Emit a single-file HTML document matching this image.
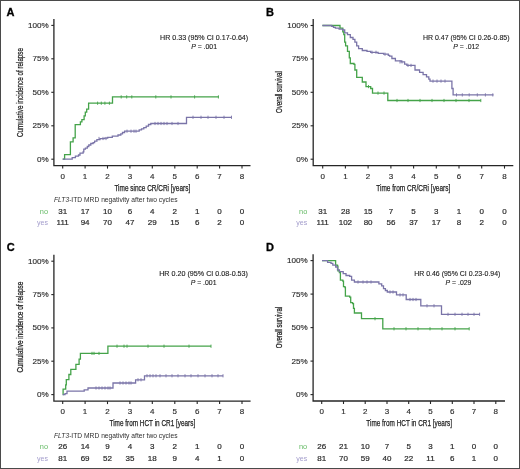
<!DOCTYPE html>
<html><head><meta charset="utf-8">
<style>
html,body{margin:0;padding:0;background:#fff;}
body{width:520px;height:469px;overflow:hidden;}
svg{display:block;will-change:transform;}
text{font-family:"Liberation Sans",sans-serif;}
.L{font-size:11px;font-weight:bold;fill:#000;stroke:#000;stroke-width:0.3px;}
.yt{font-size:8.1px;fill:#2c2c2c;stroke:#2c2c2c;stroke-width:0.15px;text-anchor:end;}
.xt{font-size:8px;fill:#2c2c2c;stroke:#2c2c2c;stroke-width:0.15px;text-anchor:middle;}
.ax{font-size:9px;fill:#222;font-weight:normal;stroke:#222;stroke-width:0.25px;}
.hr{font-size:6.9px;fill:#222;stroke:#222;stroke-width:0.12px;}
.rt{font-size:7.6px;fill:#2f2f2f;}
.rn{font-size:8px;fill:#2a2a2a;text-anchor:middle;stroke:#2a2a2a;stroke-width:0.2px;}
</style></head>
<body><svg width="520" height="469" viewBox="0 0 520 469">
<rect x="0.5" y="0.5" width="519" height="468" fill="#fff" stroke="#4a4a4a" stroke-width="1"/>
<text x="6.6" y="15.7" class="L">A</text>
<path d="M53.9 19.0 V165.6 H250.5" fill="none" stroke="#262626" stroke-width="1.3"/>
<line x1="51.3" y1="159.2" x2="53.9" y2="159.2" stroke="#262626" stroke-width="1.1"/>
<text x="48.6" y="161.7" class="yt">0%</text>
<line x1="51.3" y1="125.8" x2="53.9" y2="125.8" stroke="#262626" stroke-width="1.1"/>
<text x="48.6" y="128.2" class="yt">25%</text>
<line x1="51.3" y1="92.3" x2="53.9" y2="92.3" stroke="#262626" stroke-width="1.1"/>
<text x="48.6" y="94.8" class="yt">50%</text>
<line x1="51.3" y1="58.8" x2="53.9" y2="58.8" stroke="#262626" stroke-width="1.1"/>
<text x="48.6" y="61.3" class="yt">75%</text>
<line x1="51.3" y1="25.4" x2="53.9" y2="25.4" stroke="#262626" stroke-width="1.1"/>
<text x="48.6" y="27.9" class="yt">100%</text>
<line x1="62.7" y1="165.6" x2="62.7" y2="168.6" stroke="#262626" stroke-width="1.1"/>
<text x="62.7" y="178.6" class="xt">0</text>
<line x1="85.1" y1="165.6" x2="85.1" y2="168.6" stroke="#262626" stroke-width="1.1"/>
<text x="85.1" y="178.6" class="xt">1</text>
<line x1="107.5" y1="165.6" x2="107.5" y2="168.6" stroke="#262626" stroke-width="1.1"/>
<text x="107.5" y="178.6" class="xt">2</text>
<line x1="129.9" y1="165.6" x2="129.9" y2="168.6" stroke="#262626" stroke-width="1.1"/>
<text x="129.9" y="178.6" class="xt">3</text>
<line x1="152.3" y1="165.6" x2="152.3" y2="168.6" stroke="#262626" stroke-width="1.1"/>
<text x="152.3" y="178.6" class="xt">4</text>
<line x1="174.8" y1="165.6" x2="174.8" y2="168.6" stroke="#262626" stroke-width="1.1"/>
<text x="174.8" y="178.6" class="xt">5</text>
<line x1="197.2" y1="165.6" x2="197.2" y2="168.6" stroke="#262626" stroke-width="1.1"/>
<text x="197.2" y="178.6" class="xt">6</text>
<line x1="219.6" y1="165.6" x2="219.6" y2="168.6" stroke="#262626" stroke-width="1.1"/>
<text x="219.6" y="178.6" class="xt">7</text>
<line x1="242.0" y1="165.6" x2="242.0" y2="168.6" stroke="#262626" stroke-width="1.1"/>
<text x="242.0" y="178.6" class="xt">8</text>
<text x="114.4" y="190.9" class="ax" textLength="75.8" lengthAdjust="spacingAndGlyphs">Time since CR/CRi [years]</text>
<text transform="translate(23.0 137.0) rotate(-90)" class="ax" textLength="89.0" lengthAdjust="spacingAndGlyphs">Cumulative incidence of relapse</text>
<text x="204.1" y="40.0" class="hr" text-anchor="middle" textLength="88.2" lengthAdjust="spacingAndGlyphs">HR 0.33 (95% CI 0.17-0.64)</text>
<text x="204.1" y="49.0" class="hr" text-anchor="middle"><tspan font-style="italic">P</tspan> = .001</text>
<path d="M62.7 159.2 H64.6 V154.6 H70.4 V141.9 H73.1 V137.9 H75.2 V124.6 H80.4 V121.9 H81.9 V119.6 H84.1 V115.9 H85.3 V112.2 H86.7 V109.2 H88.6 V103.2 H112.5 V96.9 H218.8" fill="none" stroke="#44a349" stroke-width="1.3"/>
<line x1="97.6" y1="101.6" x2="97.6" y2="104.8" stroke="#44a349" stroke-width="0.9"/><line x1="101.3" y1="101.6" x2="101.3" y2="104.8" stroke="#44a349" stroke-width="0.9"/><line x1="104.9" y1="101.6" x2="104.9" y2="104.8" stroke="#44a349" stroke-width="0.9"/><line x1="109.4" y1="101.6" x2="109.4" y2="104.8" stroke="#44a349" stroke-width="0.9"/><line x1="121.2" y1="95.3" x2="121.2" y2="98.5" stroke="#44a349" stroke-width="0.9"/><line x1="126.7" y1="95.3" x2="126.7" y2="98.5" stroke="#44a349" stroke-width="0.9"/><line x1="131.8" y1="95.3" x2="131.8" y2="98.5" stroke="#44a349" stroke-width="0.9"/><line x1="155.8" y1="95.3" x2="155.8" y2="98.5" stroke="#44a349" stroke-width="0.9"/><line x1="171.0" y1="95.3" x2="171.0" y2="98.5" stroke="#44a349" stroke-width="0.9"/><line x1="194.6" y1="95.3" x2="194.6" y2="98.5" stroke="#44a349" stroke-width="0.9"/><line x1="218.4" y1="95.3" x2="218.4" y2="98.5" stroke="#44a349" stroke-width="0.9"/>
<path d="M62.7 159.2 H72.2 V157.6 H75.4 V156.2 H78.5 V155.0 H80.0 V153.1 H83.1 V151.9 H83.8 V149.2 H85.4 V148.1 H87.3 V146.5 H88.8 V145.0 H90.8 V143.5 H93.1 V142.7 H94.6 V141.2 H96.9 V139.6 H100.0 V138.7 H104.6 V138.2 H107.7 V137.4 H112.3 V136.2 H118.0 V135.0 H120.8 V133.8 H122.5 V132.5 H124.6 V131.2 H139.2 V129.8 H141.5 V128.8 H143.8 V127.7 H146.2 V126.1 H148.5 V124.5 H150.8 V123.5 H186.5 V117.3 H231.5" fill="none" stroke="#7a74a8" stroke-width="1.3"/>
<line x1="99.0" y1="136.9" x2="99.0" y2="140.1" stroke="#7a74a8" stroke-width="0.9"/><line x1="103.0" y1="136.9" x2="103.0" y2="140.1" stroke="#7a74a8" stroke-width="0.9"/><line x1="106.0" y1="136.9" x2="106.0" y2="140.1" stroke="#7a74a8" stroke-width="0.9"/><line x1="127.0" y1="129.6" x2="127.0" y2="132.8" stroke="#7a74a8" stroke-width="0.9"/><line x1="131.0" y1="129.6" x2="131.0" y2="132.8" stroke="#7a74a8" stroke-width="0.9"/><line x1="134.0" y1="129.6" x2="134.0" y2="132.8" stroke="#7a74a8" stroke-width="0.9"/><line x1="136.0" y1="129.6" x2="136.0" y2="132.8" stroke="#7a74a8" stroke-width="0.9"/><line x1="155.0" y1="121.9" x2="155.0" y2="125.1" stroke="#7a74a8" stroke-width="0.9"/><line x1="158.0" y1="121.9" x2="158.0" y2="125.1" stroke="#7a74a8" stroke-width="0.9"/><line x1="161.0" y1="121.9" x2="161.0" y2="125.1" stroke="#7a74a8" stroke-width="0.9"/><line x1="164.0" y1="121.9" x2="164.0" y2="125.1" stroke="#7a74a8" stroke-width="0.9"/><line x1="167.0" y1="121.9" x2="167.0" y2="125.1" stroke="#7a74a8" stroke-width="0.9"/><line x1="172.0" y1="121.9" x2="172.0" y2="125.1" stroke="#7a74a8" stroke-width="0.9"/><line x1="178.0" y1="121.9" x2="178.0" y2="125.1" stroke="#7a74a8" stroke-width="0.9"/><line x1="193.0" y1="115.7" x2="193.0" y2="118.9" stroke="#7a74a8" stroke-width="0.9"/><line x1="201.0" y1="115.7" x2="201.0" y2="118.9" stroke="#7a74a8" stroke-width="0.9"/><line x1="208.0" y1="115.7" x2="208.0" y2="118.9" stroke="#7a74a8" stroke-width="0.9"/><line x1="216.0" y1="115.7" x2="216.0" y2="118.9" stroke="#7a74a8" stroke-width="0.9"/><line x1="224.0" y1="115.7" x2="224.0" y2="118.9" stroke="#7a74a8" stroke-width="0.9"/><line x1="231.5" y1="115.7" x2="231.5" y2="118.9" stroke="#7a74a8" stroke-width="0.9"/>
<text x="54.0" y="202.4" class="rt" style="font-size:7.3px" textLength="123.5" lengthAdjust="spacingAndGlyphs"><tspan font-style="italic">FLT3</tspan>-ITD MRD negativity after two cycles</text>
<text x="48.0" y="213.8" class="rt" style="fill:#66bb66;font-size:7.4px" text-anchor="end">no</text>
<text x="48.0" y="225.0" class="rt" style="fill:#a39dcc;font-size:7.4px" text-anchor="end" textLength="11" lengthAdjust="spacingAndGlyphs">yes</text>
<text x="62.7" y="213.8" class="rn">31</text>
<text x="62.7" y="225.0" class="rn">111</text>
<text x="85.1" y="213.8" class="rn">17</text>
<text x="85.1" y="225.0" class="rn">94</text>
<text x="107.5" y="213.8" class="rn">10</text>
<text x="107.5" y="225.0" class="rn">70</text>
<text x="129.9" y="213.8" class="rn">6</text>
<text x="129.9" y="225.0" class="rn">47</text>
<text x="152.3" y="213.8" class="rn">4</text>
<text x="152.3" y="225.0" class="rn">29</text>
<text x="174.8" y="213.8" class="rn">2</text>
<text x="174.8" y="225.0" class="rn">15</text>
<text x="197.2" y="213.8" class="rn">1</text>
<text x="197.2" y="225.0" class="rn">6</text>
<text x="219.6" y="213.8" class="rn">0</text>
<text x="219.6" y="225.0" class="rn">2</text>
<text x="242.0" y="213.8" class="rn">0</text>
<text x="242.0" y="225.0" class="rn">0</text>
<text x="266.0" y="16.2" class="L">B</text>
<path d="M313.2 18.9 V165.6 H513.3" fill="none" stroke="#262626" stroke-width="1.3"/>
<line x1="310.6" y1="159.2" x2="313.2" y2="159.2" stroke="#262626" stroke-width="1.1"/>
<text x="307.9" y="161.7" class="yt">0%</text>
<line x1="310.6" y1="125.8" x2="313.2" y2="125.8" stroke="#262626" stroke-width="1.1"/>
<text x="307.9" y="128.3" class="yt">25%</text>
<line x1="310.6" y1="92.3" x2="313.2" y2="92.3" stroke="#262626" stroke-width="1.1"/>
<text x="307.9" y="94.8" class="yt">50%</text>
<line x1="310.6" y1="58.9" x2="313.2" y2="58.9" stroke="#262626" stroke-width="1.1"/>
<text x="307.9" y="61.4" class="yt">75%</text>
<line x1="310.6" y1="25.5" x2="313.2" y2="25.5" stroke="#262626" stroke-width="1.1"/>
<text x="307.9" y="28.0" class="yt">100%</text>
<line x1="322.7" y1="165.6" x2="322.7" y2="168.6" stroke="#262626" stroke-width="1.1"/>
<text x="322.7" y="178.6" class="xt">0</text>
<line x1="345.4" y1="165.6" x2="345.4" y2="168.6" stroke="#262626" stroke-width="1.1"/>
<text x="345.4" y="178.6" class="xt">1</text>
<line x1="368.1" y1="165.6" x2="368.1" y2="168.6" stroke="#262626" stroke-width="1.1"/>
<text x="368.1" y="178.6" class="xt">2</text>
<line x1="390.9" y1="165.6" x2="390.9" y2="168.6" stroke="#262626" stroke-width="1.1"/>
<text x="390.9" y="178.6" class="xt">3</text>
<line x1="413.6" y1="165.6" x2="413.6" y2="168.6" stroke="#262626" stroke-width="1.1"/>
<text x="413.6" y="178.6" class="xt">4</text>
<line x1="436.3" y1="165.6" x2="436.3" y2="168.6" stroke="#262626" stroke-width="1.1"/>
<text x="436.3" y="178.6" class="xt">5</text>
<line x1="459.0" y1="165.6" x2="459.0" y2="168.6" stroke="#262626" stroke-width="1.1"/>
<text x="459.0" y="178.6" class="xt">6</text>
<line x1="481.7" y1="165.6" x2="481.7" y2="168.6" stroke="#262626" stroke-width="1.1"/>
<text x="481.7" y="178.6" class="xt">7</text>
<line x1="504.5" y1="165.6" x2="504.5" y2="168.6" stroke="#262626" stroke-width="1.1"/>
<text x="504.5" y="178.6" class="xt">8</text>
<text x="376.3" y="190.9" class="ax" textLength="74.0" lengthAdjust="spacingAndGlyphs">Time from CR/CRi [years]</text>
<text transform="translate(282.1 113.0) rotate(-90)" class="ax" textLength="41.8" lengthAdjust="spacingAndGlyphs">Overall survival</text>
<text x="466.2" y="40.0" class="hr" text-anchor="middle" textLength="86.6" lengthAdjust="spacingAndGlyphs">HR 0.47 (95% CI 0.26-0.85)</text>
<text x="466.2" y="49.0" class="hr" text-anchor="middle"><tspan font-style="italic">P</tspan> = .012</text>
<path d="M322.4 25.5 H340.0 V28.2 H342.8 V31.9 H343.8 V34.7 H344.7 V42.1 H345.6 V45.8 H347.5 V51.4 H349.3 V57.9 H350.3 V63.5 H354.0 V64.4 H354.9 V70.0 H356.7 V77.4 H362.3 V82.0 H366.0 V86.6 H370.7 V88.5 H372.5 V93.1 H387.8 V100.5 H480.8" fill="none" stroke="#44a349" stroke-width="1.3"/>
<line x1="368.5" y1="85.0" x2="368.5" y2="88.2" stroke="#44a349" stroke-width="0.9"/><line x1="378.0" y1="91.5" x2="378.0" y2="94.7" stroke="#44a349" stroke-width="0.9"/><line x1="384.0" y1="91.5" x2="384.0" y2="94.7" stroke="#44a349" stroke-width="0.9"/><line x1="397.0" y1="98.9" x2="397.0" y2="102.1" stroke="#44a349" stroke-width="0.9"/><line x1="408.0" y1="98.9" x2="408.0" y2="102.1" stroke="#44a349" stroke-width="0.9"/><line x1="420.0" y1="98.9" x2="420.0" y2="102.1" stroke="#44a349" stroke-width="0.9"/><line x1="432.0" y1="98.9" x2="432.0" y2="102.1" stroke="#44a349" stroke-width="0.9"/><line x1="444.0" y1="98.9" x2="444.0" y2="102.1" stroke="#44a349" stroke-width="0.9"/><line x1="456.0" y1="98.9" x2="456.0" y2="102.1" stroke="#44a349" stroke-width="0.9"/><line x1="469.0" y1="98.9" x2="469.0" y2="102.1" stroke="#44a349" stroke-width="0.9"/><line x1="480.8" y1="98.9" x2="480.8" y2="102.1" stroke="#44a349" stroke-width="0.9"/>
<path d="M322.4 25.5 H331.7 V26.3 H333.5 V27.3 H335.4 V28.2 H339.1 V29.1 H342.8 V30.0 H344.7 V32.8 H347.5 V34.7 H350.3 V37.5 H353.0 V39.3 H354.9 V42.1 H356.7 V45.8 H358.6 V48.6 H362.3 V50.5 H367.0 V51.4 H370.7 V52.3 H378.1 V53.3 H383.6 V54.2 H388.3 V55.4 H389.6 V56.2 H391.9 V58.5 H395.4 V60.8 H401.2 V61.9 H404.6 V64.2 H406.9 V65.4 H415.0 V70.0 H419.6 V72.3 H423.1 V74.6 H426.5 V76.9 H428.8 V79.2 H430.0 V81.1 H451.9 V88.5 H453.1 V94.9 H493.5" fill="none" stroke="#7a74a8" stroke-width="1.3"/>
<line x1="372.0" y1="50.7" x2="372.0" y2="53.9" stroke="#7a74a8" stroke-width="0.9"/><line x1="376.0" y1="50.7" x2="376.0" y2="53.9" stroke="#7a74a8" stroke-width="0.9"/><line x1="385.0" y1="52.6" x2="385.0" y2="55.8" stroke="#7a74a8" stroke-width="0.9"/><line x1="400.0" y1="60.3" x2="400.0" y2="63.5" stroke="#7a74a8" stroke-width="0.9"/><line x1="402.0" y1="60.3" x2="402.0" y2="63.5" stroke="#7a74a8" stroke-width="0.9"/><line x1="408.0" y1="63.8" x2="408.0" y2="67.0" stroke="#7a74a8" stroke-width="0.9"/><line x1="411.0" y1="63.8" x2="411.0" y2="67.0" stroke="#7a74a8" stroke-width="0.9"/><line x1="433.0" y1="79.5" x2="433.0" y2="82.7" stroke="#7a74a8" stroke-width="0.9"/><line x1="437.0" y1="79.5" x2="437.0" y2="82.7" stroke="#7a74a8" stroke-width="0.9"/><line x1="441.0" y1="79.5" x2="441.0" y2="82.7" stroke="#7a74a8" stroke-width="0.9"/><line x1="445.0" y1="79.5" x2="445.0" y2="82.7" stroke="#7a74a8" stroke-width="0.9"/><line x1="456.5" y1="93.3" x2="456.5" y2="96.5" stroke="#7a74a8" stroke-width="0.9"/><line x1="462.3" y1="93.3" x2="462.3" y2="96.5" stroke="#7a74a8" stroke-width="0.9"/><line x1="469.2" y1="93.3" x2="469.2" y2="96.5" stroke="#7a74a8" stroke-width="0.9"/><line x1="477.3" y1="93.3" x2="477.3" y2="96.5" stroke="#7a74a8" stroke-width="0.9"/><line x1="485.4" y1="93.3" x2="485.4" y2="96.5" stroke="#7a74a8" stroke-width="0.9"/><line x1="492.8" y1="93.3" x2="492.8" y2="96.5" stroke="#7a74a8" stroke-width="0.9"/>
<text x="307.3" y="213.8" class="rt" style="fill:#66bb66;font-size:7.4px" text-anchor="end">no</text>
<text x="307.3" y="225.0" class="rt" style="fill:#a39dcc;font-size:7.4px" text-anchor="end" textLength="11" lengthAdjust="spacingAndGlyphs">yes</text>
<text x="322.7" y="213.8" class="rn">31</text>
<text x="322.7" y="225.0" class="rn">111</text>
<text x="345.4" y="213.8" class="rn">28</text>
<text x="345.4" y="225.0" class="rn">102</text>
<text x="368.1" y="213.8" class="rn">15</text>
<text x="368.1" y="225.0" class="rn">80</text>
<text x="390.9" y="213.8" class="rn">7</text>
<text x="390.9" y="225.0" class="rn">56</text>
<text x="413.6" y="213.8" class="rn">5</text>
<text x="413.6" y="225.0" class="rn">37</text>
<text x="436.3" y="213.8" class="rn">3</text>
<text x="436.3" y="225.0" class="rn">17</text>
<text x="459.0" y="213.8" class="rn">1</text>
<text x="459.0" y="225.0" class="rn">8</text>
<text x="481.7" y="213.8" class="rn">0</text>
<text x="481.7" y="225.0" class="rn">2</text>
<text x="504.5" y="213.8" class="rn">0</text>
<text x="504.5" y="225.0" class="rn">0</text>
<text x="6.8" y="251.0" class="L">C</text>
<path d="M53.9 254.8 V401.1 H250.6" fill="none" stroke="#262626" stroke-width="1.3"/>
<line x1="51.3" y1="394.6" x2="53.9" y2="394.6" stroke="#262626" stroke-width="1.1"/>
<text x="48.6" y="397.1" class="yt">0%</text>
<line x1="51.3" y1="361.2" x2="53.9" y2="361.2" stroke="#262626" stroke-width="1.1"/>
<text x="48.6" y="363.8" class="yt">25%</text>
<line x1="51.3" y1="327.9" x2="53.9" y2="327.9" stroke="#262626" stroke-width="1.1"/>
<text x="48.6" y="330.4" class="yt">50%</text>
<line x1="51.3" y1="294.6" x2="53.9" y2="294.6" stroke="#262626" stroke-width="1.1"/>
<text x="48.6" y="297.1" class="yt">75%</text>
<line x1="51.3" y1="261.2" x2="53.9" y2="261.2" stroke="#262626" stroke-width="1.1"/>
<text x="48.6" y="263.7" class="yt">100%</text>
<line x1="62.7" y1="401.1" x2="62.7" y2="404.1" stroke="#262626" stroke-width="1.1"/>
<text x="62.7" y="414.1" class="xt">0</text>
<line x1="85.1" y1="401.1" x2="85.1" y2="404.1" stroke="#262626" stroke-width="1.1"/>
<text x="85.1" y="414.1" class="xt">1</text>
<line x1="107.5" y1="401.1" x2="107.5" y2="404.1" stroke="#262626" stroke-width="1.1"/>
<text x="107.5" y="414.1" class="xt">2</text>
<line x1="129.9" y1="401.1" x2="129.9" y2="404.1" stroke="#262626" stroke-width="1.1"/>
<text x="129.9" y="414.1" class="xt">3</text>
<line x1="152.3" y1="401.1" x2="152.3" y2="404.1" stroke="#262626" stroke-width="1.1"/>
<text x="152.3" y="414.1" class="xt">4</text>
<line x1="174.8" y1="401.1" x2="174.8" y2="404.1" stroke="#262626" stroke-width="1.1"/>
<text x="174.8" y="414.1" class="xt">5</text>
<line x1="197.2" y1="401.1" x2="197.2" y2="404.1" stroke="#262626" stroke-width="1.1"/>
<text x="197.2" y="414.1" class="xt">6</text>
<line x1="219.6" y1="401.1" x2="219.6" y2="404.1" stroke="#262626" stroke-width="1.1"/>
<text x="219.6" y="414.1" class="xt">7</text>
<line x1="242.0" y1="401.1" x2="242.0" y2="404.1" stroke="#262626" stroke-width="1.1"/>
<text x="242.0" y="414.1" class="xt">8</text>
<text x="109.5" y="426.4" class="ax" textLength="85.7" lengthAdjust="spacingAndGlyphs">Time from HCT in CR1 [years]</text>
<text transform="translate(22.8 372.6) rotate(-90)" class="ax" textLength="91.0" lengthAdjust="spacingAndGlyphs">Cumulative incidence of relapse</text>
<text x="203.6" y="275.8" class="hr" text-anchor="middle" textLength="88.8" lengthAdjust="spacingAndGlyphs">HR 0.20 (95% CI 0.08-0.53)</text>
<text x="203.6" y="284.8" class="hr" text-anchor="middle"><tspan font-style="italic">P</tspan> = .001</text>
<path d="M62.7 394.6 H63.1 V389.2 H65.7 V384.8 H66.3 V379.6 H68.9 V374.5 H70.8 V369.4 H75.9 V364.3 H79.1 V359.2 H80.4 V353.4 H107.9 V346.2 H211.0" fill="none" stroke="#44a349" stroke-width="1.3"/>
<line x1="92.0" y1="351.8" x2="92.0" y2="355.0" stroke="#44a349" stroke-width="0.9"/><line x1="94.0" y1="351.8" x2="94.0" y2="355.0" stroke="#44a349" stroke-width="0.9"/><line x1="99.0" y1="351.8" x2="99.0" y2="355.0" stroke="#44a349" stroke-width="0.9"/><line x1="117.0" y1="344.6" x2="117.0" y2="347.8" stroke="#44a349" stroke-width="0.9"/><line x1="124.0" y1="344.6" x2="124.0" y2="347.8" stroke="#44a349" stroke-width="0.9"/><line x1="127.0" y1="344.6" x2="127.0" y2="347.8" stroke="#44a349" stroke-width="0.9"/><line x1="148.0" y1="344.6" x2="148.0" y2="347.8" stroke="#44a349" stroke-width="0.9"/><line x1="164.0" y1="344.6" x2="164.0" y2="347.8" stroke="#44a349" stroke-width="0.9"/><line x1="189.0" y1="344.6" x2="189.0" y2="347.8" stroke="#44a349" stroke-width="0.9"/><line x1="211.0" y1="344.6" x2="211.0" y2="347.8" stroke="#44a349" stroke-width="0.9"/>
<path d="M62.7 394.6 H65.0 V393.7 H67.0 V391.2 H84.2 V389.9 H88.0 V388.0 H113.0 V383.0 H135.6 V379.8 H144.5 V375.8 H223.1" fill="none" stroke="#7a74a8" stroke-width="1.3"/>
<line x1="96.0" y1="386.4" x2="96.0" y2="389.6" stroke="#7a74a8" stroke-width="0.9"/><line x1="99.0" y1="386.4" x2="99.0" y2="389.6" stroke="#7a74a8" stroke-width="0.9"/><line x1="102.0" y1="386.4" x2="102.0" y2="389.6" stroke="#7a74a8" stroke-width="0.9"/><line x1="105.0" y1="386.4" x2="105.0" y2="389.6" stroke="#7a74a8" stroke-width="0.9"/><line x1="108.0" y1="386.4" x2="108.0" y2="389.6" stroke="#7a74a8" stroke-width="0.9"/><line x1="110.0" y1="386.4" x2="110.0" y2="389.6" stroke="#7a74a8" stroke-width="0.9"/><line x1="120.0" y1="381.4" x2="120.0" y2="384.6" stroke="#7a74a8" stroke-width="0.9"/><line x1="123.0" y1="381.4" x2="123.0" y2="384.6" stroke="#7a74a8" stroke-width="0.9"/><line x1="126.0" y1="381.4" x2="126.0" y2="384.6" stroke="#7a74a8" stroke-width="0.9"/><line x1="129.0" y1="381.4" x2="129.0" y2="384.6" stroke="#7a74a8" stroke-width="0.9"/><line x1="131.0" y1="381.4" x2="131.0" y2="384.6" stroke="#7a74a8" stroke-width="0.9"/><line x1="138.0" y1="378.2" x2="138.0" y2="381.4" stroke="#7a74a8" stroke-width="0.9"/><line x1="141.0" y1="378.2" x2="141.0" y2="381.4" stroke="#7a74a8" stroke-width="0.9"/><line x1="147.0" y1="374.2" x2="147.0" y2="377.4" stroke="#7a74a8" stroke-width="0.9"/><line x1="150.0" y1="374.2" x2="150.0" y2="377.4" stroke="#7a74a8" stroke-width="0.9"/><line x1="153.0" y1="374.2" x2="153.0" y2="377.4" stroke="#7a74a8" stroke-width="0.9"/><line x1="156.0" y1="374.2" x2="156.0" y2="377.4" stroke="#7a74a8" stroke-width="0.9"/><line x1="160.0" y1="374.2" x2="160.0" y2="377.4" stroke="#7a74a8" stroke-width="0.9"/><line x1="166.0" y1="374.2" x2="166.0" y2="377.4" stroke="#7a74a8" stroke-width="0.9"/><line x1="172.0" y1="374.2" x2="172.0" y2="377.4" stroke="#7a74a8" stroke-width="0.9"/><line x1="178.0" y1="374.2" x2="178.0" y2="377.4" stroke="#7a74a8" stroke-width="0.9"/><line x1="185.0" y1="374.2" x2="185.0" y2="377.4" stroke="#7a74a8" stroke-width="0.9"/><line x1="191.0" y1="374.2" x2="191.0" y2="377.4" stroke="#7a74a8" stroke-width="0.9"/><line x1="198.0" y1="374.2" x2="198.0" y2="377.4" stroke="#7a74a8" stroke-width="0.9"/><line x1="205.0" y1="374.2" x2="205.0" y2="377.4" stroke="#7a74a8" stroke-width="0.9"/><line x1="212.0" y1="374.2" x2="212.0" y2="377.4" stroke="#7a74a8" stroke-width="0.9"/><line x1="218.0" y1="374.2" x2="218.0" y2="377.4" stroke="#7a74a8" stroke-width="0.9"/><line x1="223.0" y1="374.2" x2="223.0" y2="377.4" stroke="#7a74a8" stroke-width="0.9"/>
<text x="54.0" y="438.0" class="rt" style="font-size:7.3px" textLength="123.5" lengthAdjust="spacingAndGlyphs"><tspan font-style="italic">FLT3</tspan>-ITD MRD negativity after two cycles</text>
<text x="48.0" y="449.4" class="rt" style="fill:#66bb66;font-size:7.4px" text-anchor="end">no</text>
<text x="48.0" y="460.6" class="rt" style="fill:#a39dcc;font-size:7.4px" text-anchor="end" textLength="11" lengthAdjust="spacingAndGlyphs">yes</text>
<text x="62.7" y="449.4" class="rn">26</text>
<text x="62.7" y="460.6" class="rn">81</text>
<text x="85.1" y="449.4" class="rn">14</text>
<text x="85.1" y="460.6" class="rn">69</text>
<text x="107.5" y="449.4" class="rn">9</text>
<text x="107.5" y="460.6" class="rn">52</text>
<text x="129.9" y="449.4" class="rn">4</text>
<text x="129.9" y="460.6" class="rn">35</text>
<text x="152.3" y="449.4" class="rn">3</text>
<text x="152.3" y="460.6" class="rn">18</text>
<text x="174.8" y="449.4" class="rn">2</text>
<text x="174.8" y="460.6" class="rn">9</text>
<text x="197.2" y="449.4" class="rn">1</text>
<text x="197.2" y="460.6" class="rn">4</text>
<text x="219.6" y="449.4" class="rn">0</text>
<text x="219.6" y="460.6" class="rn">1</text>
<text x="242.0" y="449.4" class="rn">0</text>
<text x="242.0" y="460.6" class="rn">0</text>
<text x="266.0" y="251.0" class="L">D</text>
<path d="M313.1 254.2 V401.0 H505.0" fill="none" stroke="#262626" stroke-width="1.3"/>
<line x1="310.5" y1="394.6" x2="313.1" y2="394.6" stroke="#262626" stroke-width="1.1"/>
<text x="307.8" y="397.1" class="yt">0%</text>
<line x1="310.5" y1="361.1" x2="313.1" y2="361.1" stroke="#262626" stroke-width="1.1"/>
<text x="307.8" y="363.6" class="yt">25%</text>
<line x1="310.5" y1="327.6" x2="313.1" y2="327.6" stroke="#262626" stroke-width="1.1"/>
<text x="307.8" y="330.1" class="yt">50%</text>
<line x1="310.5" y1="294.1" x2="313.1" y2="294.1" stroke="#262626" stroke-width="1.1"/>
<text x="307.8" y="296.6" class="yt">75%</text>
<line x1="310.5" y1="260.6" x2="313.1" y2="260.6" stroke="#262626" stroke-width="1.1"/>
<text x="307.8" y="263.1" class="yt">100%</text>
<line x1="321.7" y1="401.0" x2="321.7" y2="404.0" stroke="#262626" stroke-width="1.1"/>
<text x="321.7" y="414.0" class="xt">0</text>
<line x1="343.5" y1="401.0" x2="343.5" y2="404.0" stroke="#262626" stroke-width="1.1"/>
<text x="343.5" y="414.0" class="xt">1</text>
<line x1="365.2" y1="401.0" x2="365.2" y2="404.0" stroke="#262626" stroke-width="1.1"/>
<text x="365.2" y="414.0" class="xt">2</text>
<line x1="387.0" y1="401.0" x2="387.0" y2="404.0" stroke="#262626" stroke-width="1.1"/>
<text x="387.0" y="414.0" class="xt">3</text>
<line x1="408.7" y1="401.0" x2="408.7" y2="404.0" stroke="#262626" stroke-width="1.1"/>
<text x="408.7" y="414.0" class="xt">4</text>
<line x1="430.5" y1="401.0" x2="430.5" y2="404.0" stroke="#262626" stroke-width="1.1"/>
<text x="430.5" y="414.0" class="xt">5</text>
<line x1="452.3" y1="401.0" x2="452.3" y2="404.0" stroke="#262626" stroke-width="1.1"/>
<text x="452.3" y="414.0" class="xt">6</text>
<line x1="474.0" y1="401.0" x2="474.0" y2="404.0" stroke="#262626" stroke-width="1.1"/>
<text x="474.0" y="414.0" class="xt">7</text>
<line x1="495.8" y1="401.0" x2="495.8" y2="404.0" stroke="#262626" stroke-width="1.1"/>
<text x="495.8" y="414.0" class="xt">8</text>
<text x="366.3" y="426.3" class="ax" textLength="85.7" lengthAdjust="spacingAndGlyphs">Time from HCT in CR1 [years]</text>
<text transform="translate(282.1 348.3) rotate(-90)" class="ax" textLength="41.4" lengthAdjust="spacingAndGlyphs">Overall survival</text>
<text x="457.3" y="275.6" class="hr" text-anchor="middle" textLength="86.2" lengthAdjust="spacingAndGlyphs">HR 0.46 (95% CI 0.23-0.94)</text>
<text x="458.5" y="284.6" class="hr" text-anchor="middle"><tspan font-style="italic">P</tspan> = .029</text>
<path d="M322.0 260.6 H335.6 V265.1 H337.5 V266.1 H337.9 V270.8 H339.4 V272.7 H340.4 V280.2 H342.8 V281.1 H343.5 V286.7 H345.0 V287.7 H345.4 V296.1 H349.7 V297.1 H350.7 V302.7 H352.6 V303.6 H353.5 V308.3 H354.4 V313.0 H361.5 V318.7 H382.8 V328.8 H469.2" fill="none" stroke="#44a349" stroke-width="1.3"/>
<line x1="375.0" y1="317.1" x2="375.0" y2="320.3" stroke="#44a349" stroke-width="0.9"/><line x1="394.0" y1="327.2" x2="394.0" y2="330.4" stroke="#44a349" stroke-width="0.9"/><line x1="406.0" y1="327.2" x2="406.0" y2="330.4" stroke="#44a349" stroke-width="0.9"/><line x1="418.0" y1="327.2" x2="418.0" y2="330.4" stroke="#44a349" stroke-width="0.9"/><line x1="430.0" y1="327.2" x2="430.0" y2="330.4" stroke="#44a349" stroke-width="0.9"/><line x1="442.0" y1="327.2" x2="442.0" y2="330.4" stroke="#44a349" stroke-width="0.9"/><line x1="455.0" y1="327.2" x2="455.0" y2="330.4" stroke="#44a349" stroke-width="0.9"/><line x1="469.2" y1="327.2" x2="469.2" y2="330.4" stroke="#44a349" stroke-width="0.9"/>
<path d="M322.0 260.6 H327.6 V262.3 H331.0 V263.3 H332.8 V265.1 H335.7 V267.0 H337.5 V269.8 H339.4 V271.7 H343.2 V273.6 H346.0 V275.5 H349.7 V276.4 H351.6 V280.2 H354.4 V282.0 H378.9 V283.9 H381.7 V285.8 H383.5 V288.6 H385.4 V290.5 H387.3 V292.0 H396.5 V294.9 H406.2 V299.5 H420.8 V305.8 H441.5 V314.3 H479.6" fill="none" stroke="#7a74a8" stroke-width="1.3"/>
<line x1="358.0" y1="280.4" x2="358.0" y2="283.6" stroke="#7a74a8" stroke-width="0.9"/><line x1="363.0" y1="280.4" x2="363.0" y2="283.6" stroke="#7a74a8" stroke-width="0.9"/><line x1="367.0" y1="280.4" x2="367.0" y2="283.6" stroke="#7a74a8" stroke-width="0.9"/><line x1="371.0" y1="280.4" x2="371.0" y2="283.6" stroke="#7a74a8" stroke-width="0.9"/><line x1="390.0" y1="290.4" x2="390.0" y2="293.6" stroke="#7a74a8" stroke-width="0.9"/><line x1="393.0" y1="290.4" x2="393.0" y2="293.6" stroke="#7a74a8" stroke-width="0.9"/><line x1="400.0" y1="293.3" x2="400.0" y2="296.5" stroke="#7a74a8" stroke-width="0.9"/><line x1="403.0" y1="293.3" x2="403.0" y2="296.5" stroke="#7a74a8" stroke-width="0.9"/><line x1="410.0" y1="297.9" x2="410.0" y2="301.1" stroke="#7a74a8" stroke-width="0.9"/><line x1="413.0" y1="297.9" x2="413.0" y2="301.1" stroke="#7a74a8" stroke-width="0.9"/><line x1="416.0" y1="297.9" x2="416.0" y2="301.1" stroke="#7a74a8" stroke-width="0.9"/><line x1="427.0" y1="304.2" x2="427.0" y2="307.4" stroke="#7a74a8" stroke-width="0.9"/><line x1="434.0" y1="304.2" x2="434.0" y2="307.4" stroke="#7a74a8" stroke-width="0.9"/><line x1="448.0" y1="312.7" x2="448.0" y2="315.9" stroke="#7a74a8" stroke-width="0.9"/><line x1="455.0" y1="312.7" x2="455.0" y2="315.9" stroke="#7a74a8" stroke-width="0.9"/><line x1="462.0" y1="312.7" x2="462.0" y2="315.9" stroke="#7a74a8" stroke-width="0.9"/><line x1="468.0" y1="312.7" x2="468.0" y2="315.9" stroke="#7a74a8" stroke-width="0.9"/><line x1="474.0" y1="312.7" x2="474.0" y2="315.9" stroke="#7a74a8" stroke-width="0.9"/><line x1="479.6" y1="312.7" x2="479.6" y2="315.9" stroke="#7a74a8" stroke-width="0.9"/>
<text x="307.2" y="449.4" class="rt" style="fill:#66bb66;font-size:7.4px" text-anchor="end">no</text>
<text x="307.2" y="460.6" class="rt" style="fill:#a39dcc;font-size:7.4px" text-anchor="end" textLength="11" lengthAdjust="spacingAndGlyphs">yes</text>
<text x="321.7" y="449.4" class="rn">26</text>
<text x="321.7" y="460.6" class="rn">81</text>
<text x="343.5" y="449.4" class="rn">21</text>
<text x="343.5" y="460.6" class="rn">70</text>
<text x="365.2" y="449.4" class="rn">10</text>
<text x="365.2" y="460.6" class="rn">59</text>
<text x="387.0" y="449.4" class="rn">7</text>
<text x="387.0" y="460.6" class="rn">40</text>
<text x="408.7" y="449.4" class="rn">5</text>
<text x="408.7" y="460.6" class="rn">22</text>
<text x="430.5" y="449.4" class="rn">3</text>
<text x="430.5" y="460.6" class="rn">11</text>
<text x="452.3" y="449.4" class="rn">1</text>
<text x="452.3" y="460.6" class="rn">6</text>
<text x="474.0" y="449.4" class="rn">0</text>
<text x="474.0" y="460.6" class="rn">1</text>
<text x="495.8" y="449.4" class="rn">0</text>
<text x="495.8" y="460.6" class="rn">0</text>
</svg></body></html>
